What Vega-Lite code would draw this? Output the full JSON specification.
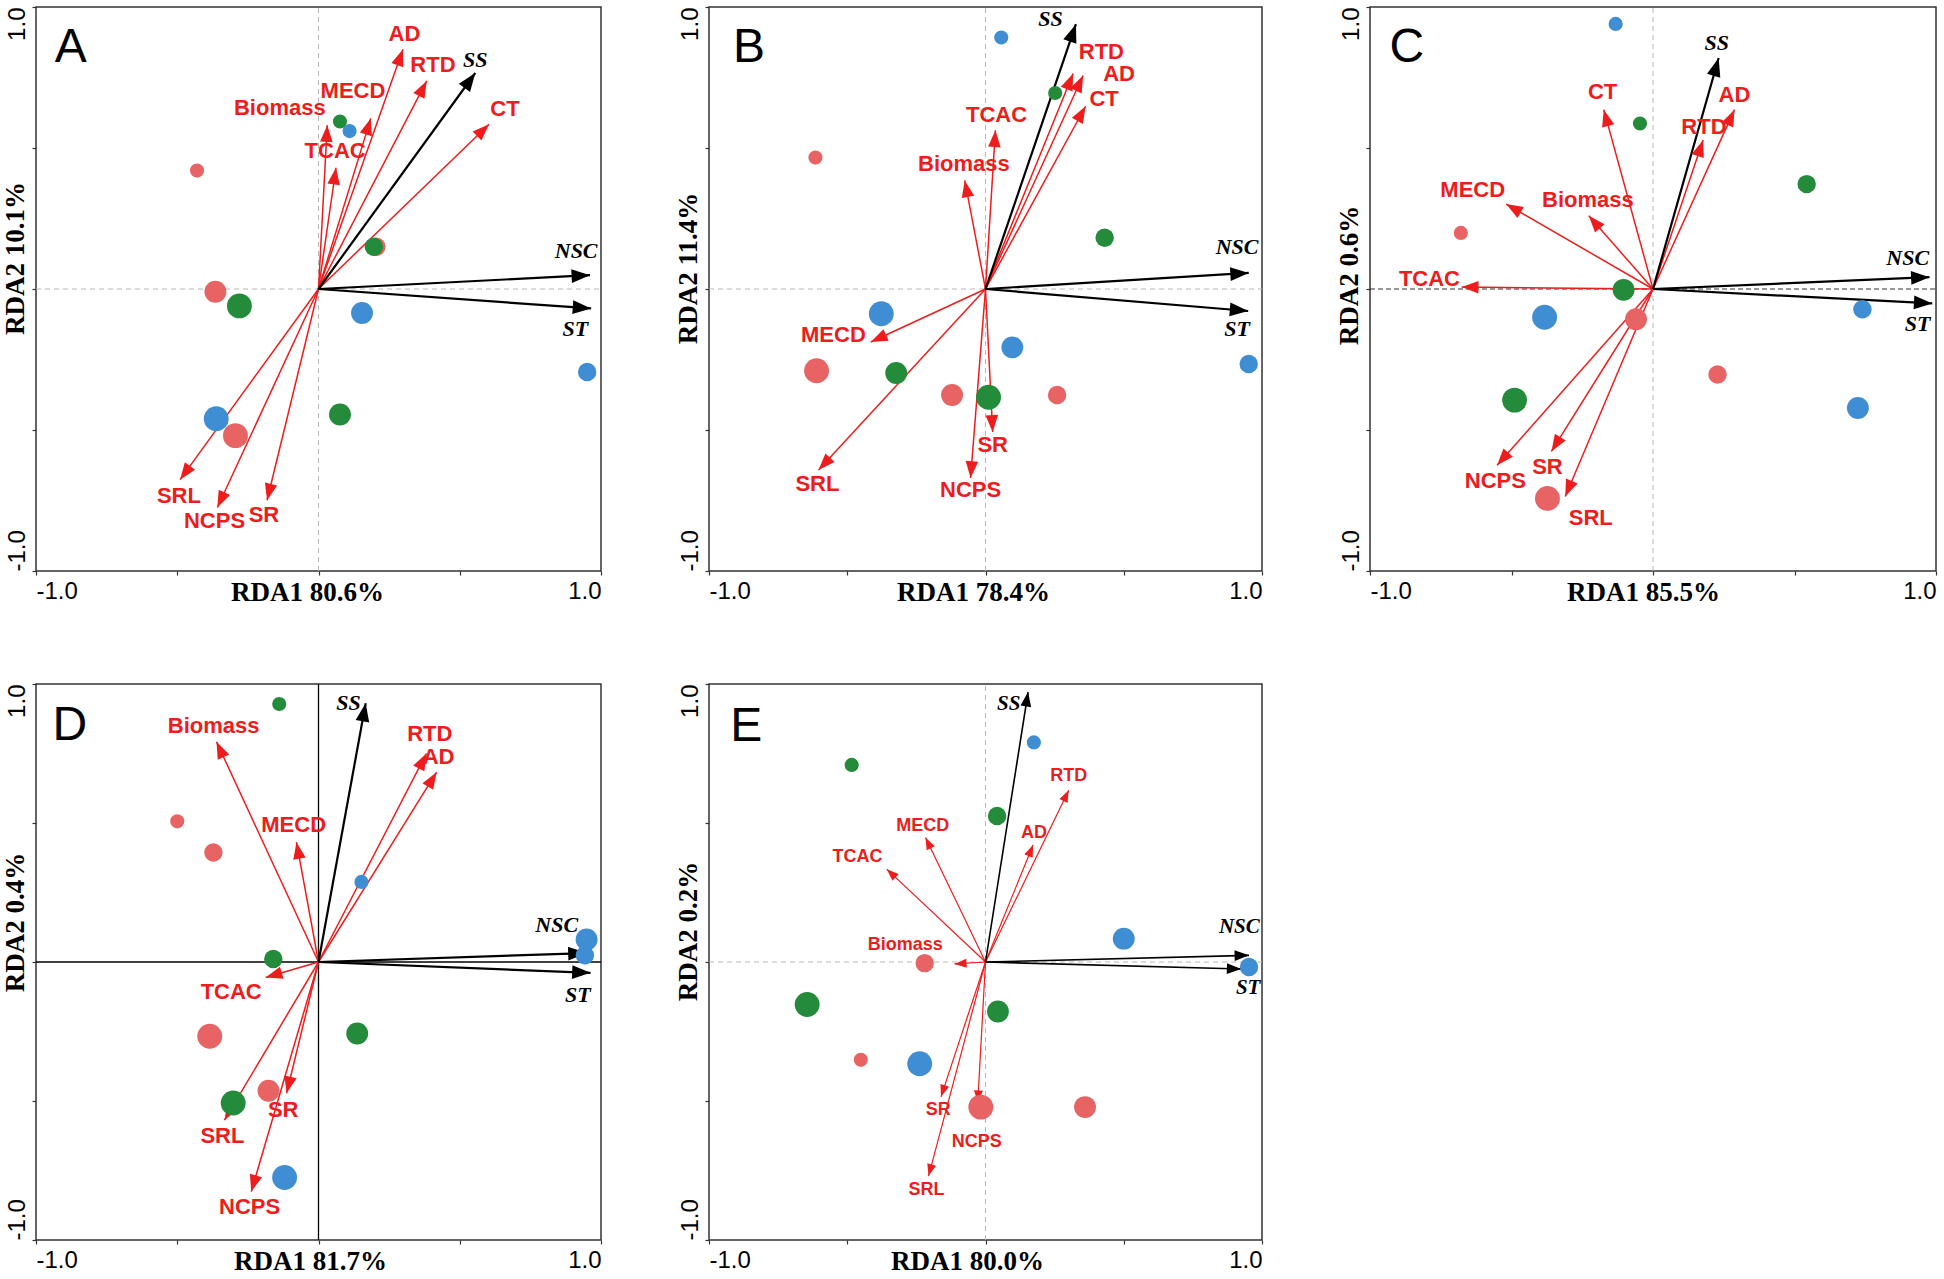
{
"$schema": "https://vega.github.io/schema/vega-lite/v6.json",
"background": "white",
"padding": {"left": 0, "top": 5, "right": 5, "bottom": 0},
"bounds": "flush",
"columns": 3,
"spacing": {"row": 113, "column": 108},
"datasets": {
"points": [
{"panel":"A","group":"G1","level":1,"x":-0.43,"y":0.42},
{"panel":"A","group":"G1","level":2,"x":0.205,"y":0.15},
{"panel":"A","group":"G1","level":3,"x":-0.365,"y":-0.01},
{"panel":"A","group":"G1","level":4,"x":-0.294,"y":-0.52},
{"panel":"A","group":"G3","level":1,"x":0.11,"y":0.56},
{"panel":"A","group":"G3","level":2,"x":0.951,"y":-0.294},
{"panel":"A","group":"G3","level":3,"x":0.154,"y":-0.085},
{"panel":"A","group":"G3","level":4,"x":-0.362,"y":-0.46},
{"panel":"A","group":"G2","level":1,"x":0.076,"y":0.594},
{"panel":"A","group":"G2","level":2,"x":0.196,"y":0.15},
{"panel":"A","group":"G2","level":3,"x":0.076,"y":-0.445},
{"panel":"A","group":"G2","level":4,"x":-0.28,"y":-0.06},
{"panel":"B","group":"G1","level":1,"x":-0.615,"y":0.466},
{"panel":"B","group":"G1","level":2,"x":0.259,"y":-0.376},
{"panel":"B","group":"G1","level":3,"x":-0.121,"y":-0.376},
{"panel":"B","group":"G1","level":4,"x":-0.611,"y":-0.29},
{"panel":"B","group":"G3","level":1,"x":0.057,"y":0.892},
{"panel":"B","group":"G3","level":2,"x":0.952,"y":-0.266},
{"panel":"B","group":"G3","level":3,"x":0.097,"y":-0.207},
{"panel":"B","group":"G3","level":4,"x":-0.377,"y":-0.088},
{"panel":"B","group":"G2","level":1,"x":0.252,"y":0.695},
{"panel":"B","group":"G2","level":2,"x":0.431,"y":0.182},
{"panel":"B","group":"G2","level":3,"x":-0.323,"y":-0.298},
{"panel":"B","group":"G2","level":4,"x":0.011,"y":-0.384},
{"panel":"C","group":"G1","level":1,"x":-0.679,"y":0.199},
{"panel":"C","group":"G1","level":2,"x":0.228,"y":-0.303},
{"panel":"C","group":"G1","level":3,"x":-0.06,"y":-0.107},
{"panel":"C","group":"G1","level":4,"x":-0.373,"y":-0.743},
{"panel":"C","group":"G3","level":1,"x":-0.132,"y":0.94},
{"panel":"C","group":"G3","level":2,"x":0.74,"y":-0.072},
{"panel":"C","group":"G3","level":3,"x":0.724,"y":-0.422},
{"panel":"C","group":"G3","level":4,"x":-0.383,"y":-0.1},
{"panel":"C","group":"G2","level":1,"x":-0.046,"y":0.587},
{"panel":"C","group":"G2","level":2,"x":0.543,"y":0.372},
{"panel":"C","group":"G2","level":3,"x":-0.104,"y":-0.003},
{"panel":"C","group":"G2","level":4,"x":-0.489,"y":-0.394},
{"panel":"D","group":"G1","level":1,"x":-0.5,"y":0.506},
{"panel":"D","group":"G1","level":2,"x":-0.372,"y":0.394},
{"panel":"D","group":"G1","level":3,"x":-0.177,"y":-0.463},
{"panel":"D","group":"G1","level":4,"x":-0.385,"y":-0.267},
{"panel":"D","group":"G3","level":1,"x":0.152,"y":0.288},
{"panel":"D","group":"G3","level":2,"x":0.943,"y":0.024},
{"panel":"D","group":"G3","level":3,"x":0.949,"y":0.081},
{"panel":"D","group":"G3","level":4,"x":-0.12,"y":-0.775},
{"panel":"D","group":"G2","level":1,"x":-0.139,"y":0.928},
{"panel":"D","group":"G2","level":2,"x":-0.16,"y":0.011},
{"panel":"D","group":"G2","level":3,"x":0.137,"y":-0.257},
{"panel":"D","group":"G2","level":4,"x":-0.302,"y":-0.507},
{"panel":"E","group":"G1","level":1,"x":-0.451,"y":-0.352},
{"panel":"E","group":"G1","level":2,"x":-0.22,"y":-0.004},
{"panel":"E","group":"G1","level":3,"x":0.36,"y":-0.522},
{"panel":"E","group":"G1","level":4,"x":-0.017,"y":-0.522},
{"panel":"E","group":"G3","level":1,"x":0.175,"y":0.79},
{"panel":"E","group":"G3","level":2,"x":0.953,"y":-0.018},
{"panel":"E","group":"G3","level":3,"x":0.5,"y":0.084},
{"panel":"E","group":"G3","level":4,"x":-0.238,"y":-0.366},
{"panel":"E","group":"G2","level":1,"x":-0.484,"y":0.709},
{"panel":"E","group":"G2","level":2,"x":0.042,"y":0.525},
{"panel":"E","group":"G2","level":3,"x":0.045,"y":-0.178},
{"panel":"E","group":"G2","level":4,"x":-0.645,"y":-0.153}
],
"vectors": [
{"panel":"A","var":"AD","kind":"trait","x":0.299,"y":0.85,"lx":0.304,"ly":0.906},
{"panel":"A","var":"RTD","kind":"trait","x":0.383,"y":0.738,"lx":0.405,"ly":0.794},
{"panel":"A","var":"CT","kind":"trait","x":0.604,"y":0.584,"lx":0.66,"ly":0.637},
{"panel":"A","var":"MECD","kind":"trait","x":0.185,"y":0.605,"lx":0.122,"ly":0.703},
{"panel":"A","var":"Biomass","kind":"trait","x":0.031,"y":0.581,"lx":-0.137,"ly":0.643},
{"panel":"A","var":"TCAC","kind":"trait","x":0.062,"y":0.43,"lx":0.059,"ly":0.489},
{"panel":"A","var":"SRL","kind":"trait","x":-0.49,"y":-0.676,"lx":-0.494,"ly":-0.735},
{"panel":"A","var":"NCPS","kind":"trait","x":-0.358,"y":-0.775,"lx":-0.368,"ly":-0.824},
{"panel":"A","var":"SR","kind":"trait","x":-0.182,"y":-0.749,"lx":-0.193,"ly":-0.8},
{"panel":"A","var":"SS","kind":"env","x":0.555,"y":0.766,"lx":0.555,"ly":0.811},
{"panel":"A","var":"NSC","kind":"env","x":0.961,"y":0.049,"lx":0.912,"ly":0.136},
{"panel":"A","var":"ST","kind":"env","x":0.965,"y":-0.069,"lx":0.909,"ly":-0.141},
{"panel":"B","var":"RTD","kind":"trait","x":0.317,"y":0.764,"lx":0.419,"ly":0.842},
{"panel":"B","var":"AD","kind":"trait","x":0.353,"y":0.757,"lx":0.483,"ly":0.764},
{"panel":"B","var":"CT","kind":"trait","x":0.362,"y":0.648,"lx":0.429,"ly":0.672},
{"panel":"B","var":"TCAC","kind":"trait","x":0.036,"y":0.563,"lx":0.04,"ly":0.618},
{"panel":"B","var":"Biomass","kind":"trait","x":-0.075,"y":0.385,"lx":-0.078,"ly":0.445},
{"panel":"B","var":"MECD","kind":"trait","x":-0.415,"y":-0.188,"lx":-0.55,"ly":-0.162},
{"panel":"B","var":"SRL","kind":"trait","x":-0.604,"y":-0.642,"lx":-0.608,"ly":-0.692},
{"panel":"B","var":"NCPS","kind":"trait","x":-0.054,"y":-0.67,"lx":-0.054,"ly":-0.713},
{"panel":"B","var":"SR","kind":"trait","x":0.026,"y":-0.507,"lx":0.026,"ly":-0.554},
{"panel":"B","var":"SS","kind":"env","x":0.327,"y":0.939,"lx":0.235,"ly":0.956},
{"panel":"B","var":"NSC","kind":"env","x":0.952,"y":0.057,"lx":0.91,"ly":0.149},
{"panel":"B","var":"ST","kind":"env","x":0.95,"y":-0.078,"lx":0.91,"ly":-0.142},
{"panel":"C","var":"AD","kind":"trait","x":0.288,"y":0.636,"lx":0.288,"ly":0.688},
{"panel":"C","var":"RTD","kind":"trait","x":0.177,"y":0.528,"lx":0.18,"ly":0.576},
{"panel":"C","var":"CT","kind":"trait","x":-0.174,"y":0.636,"lx":-0.178,"ly":0.697},
{"panel":"C","var":"MECD","kind":"trait","x":-0.519,"y":0.301,"lx":-0.637,"ly":0.351},
{"panel":"C","var":"Biomass","kind":"trait","x":-0.227,"y":0.26,"lx":-0.23,"ly":0.315},
{"panel":"C","var":"TCAC","kind":"trait","x":-0.676,"y":0.007,"lx":-0.79,"ly":0.037},
{"panel":"C","var":"NCPS","kind":"trait","x":-0.551,"y":-0.625,"lx":-0.557,"ly":-0.681},
{"panel":"C","var":"SR","kind":"trait","x":-0.359,"y":-0.576,"lx":-0.373,"ly":-0.632},
{"panel":"C","var":"SRL","kind":"trait","x":-0.31,"y":-0.736,"lx":-0.22,"ly":-0.813},
{"panel":"C","var":"SS","kind":"env","x":0.232,"y":0.819,"lx":0.225,"ly":0.872},
{"panel":"C","var":"NSC","kind":"env","x":0.977,"y":0.042,"lx":0.9,"ly":0.111},
{"panel":"C","var":"ST","kind":"env","x":0.987,"y":-0.051,"lx":0.935,"ly":-0.125},
{"panel":"D","var":"RTD","kind":"trait","x":0.382,"y":0.75,"lx":0.394,"ly":0.819},
{"panel":"D","var":"AD","kind":"trait","x":0.418,"y":0.683,"lx":0.425,"ly":0.739},
{"panel":"D","var":"Biomass","kind":"trait","x":-0.361,"y":0.792,"lx":-0.371,"ly":0.85},
{"panel":"D","var":"MECD","kind":"trait","x":-0.078,"y":0.431,"lx":-0.088,"ly":0.493},
{"panel":"D","var":"TCAC","kind":"trait","x":-0.187,"y":-0.056,"lx":-0.309,"ly":-0.108},
{"panel":"D","var":"SRL","kind":"trait","x":-0.333,"y":-0.569,"lx":-0.34,"ly":-0.625},
{"panel":"D","var":"SR","kind":"trait","x":-0.113,"y":-0.472,"lx":-0.125,"ly":-0.531},
{"panel":"D","var":"NCPS","kind":"trait","x":-0.238,"y":-0.826,"lx":-0.244,"ly":-0.882},
{"panel":"D","var":"SS","kind":"env","x":0.167,"y":0.931,"lx":0.106,"ly":0.931},
{"panel":"D","var":"NSC","kind":"env","x":0.949,"y":0.032,"lx":0.843,"ly":0.132},
{"panel":"D","var":"ST","kind":"env","x":0.963,"y":-0.039,"lx":0.918,"ly":-0.118},
{"panel":"E","var":"RTD","kind":"trait","x":0.301,"y":0.618,"lx":0.301,"ly":0.669},
{"panel":"E","var":"AD","kind":"trait","x":0.172,"y":0.421,"lx":0.175,"ly":0.465},
{"panel":"E","var":"MECD","kind":"trait","x":-0.217,"y":0.448,"lx":-0.227,"ly":0.49},
{"panel":"E","var":"TCAC","kind":"trait","x":-0.357,"y":0.334,"lx":-0.463,"ly":0.379},
{"panel":"E","var":"Biomass","kind":"trait","x":-0.112,"y":-0.007,"lx":-0.29,"ly":0.061},
{"panel":"E","var":"SR","kind":"trait","x":-0.161,"y":-0.485,"lx":-0.171,"ly":-0.531},
{"panel":"E","var":"SRL","kind":"trait","x":-0.206,"y":-0.77,"lx":-0.213,"ly":-0.819},
{"panel":"E","var":"NCPS","kind":"trait","x":-0.028,"y":-0.505,"lx":-0.032,"ly":-0.649},
{"panel":"E","var":"SS","kind":"env","x":0.154,"y":0.971,"lx":0.084,"ly":0.929},
{"panel":"E","var":"NSC","kind":"env","x":0.953,"y":0.024,"lx":0.918,"ly":0.125},
{"panel":"E","var":"ST","kind":"env","x":0.925,"y":-0.025,"lx":0.95,"ly":-0.095}
]
},
"config": {
"view": {"stroke": "#333333", "strokeWidth": 1.5},
"axis": {"domain": false, "grid": false, "ticks": true, "tickColor": "#333333", "tickSize": 4, "tickWidth": 1.2, "labelFont": "Liberation Sans", "labelFontSize": 24, "labelColor": "#000000", "labelOverlap": false, "titleFont": "Liberation Serif", "titleFontSize": 27, "titleFontWeight": "bold", "titleColor": "#000000"}
},
"concat": [
{
"width": 565, "height": 564,
"layer": [
{"data": {"values": [{}]}, "mark": {"type": "rule", "stroke": "#b8b8b8", "strokeDash": [5, 4], "strokeWidth": 1},
 "encoding": {"x": {"datum": 0, "type": "quantitative", "scale": {"domain": [-1, 1], "nice": false}}, "y": {"datum": -1, "type": "quantitative", "scale": {"domain": [-1, 1], "nice": false}}, "y2": {"datum": 1}}},
{"data": {"values": [{}]}, "mark": {"type": "rule", "stroke": "#b8b8b8", "strokeDash": [5, 4], "strokeWidth": 1},
 "encoding": {"x": {"datum": -1, "type": "quantitative", "scale": {"domain": [-1, 1], "nice": false}}, "x2": {"datum": 1}, "y": {"datum": 0, "type": "quantitative", "scale": {"domain": [-1, 1], "nice": false}}}},
{"data": {"name": "vectors"}, "transform": [{"filter": "datum.panel === 'A' && datum.kind === 'trait'"}],
 "mark": {"type": "rule", "stroke": "#ee1c1c", "strokeWidth": 1.5},
 "encoding": {"x": {"field": "x", "type": "quantitative", "scale": {"domain": [-1, 1], "nice": false}}, "y": {"field": "y", "type": "quantitative", "scale": {"domain": [-1, 1], "nice": false}}, "x2": {"datum": 0}, "y2": {"datum": 0}}},
{"data": {"name": "vectors"}, "transform": [{"filter": "datum.panel === 'A' && datum.kind === 'env'"}],
 "mark": {"type": "rule", "stroke": "#000000", "strokeWidth": 2.2},
 "encoding": {"x": {"field": "x", "type": "quantitative", "scale": {"domain": [-1, 1], "nice": false}}, "y": {"field": "y", "type": "quantitative", "scale": {"domain": [-1, 1], "nice": false}}, "x2": {"datum": 0}, "y2": {"datum": 0}}},
{"data": {"name": "vectors"}, "transform": [{"filter": "datum.panel === 'A' && datum.kind === 'trait'"}, {"calculate": "atan2(datum.x, datum.y) * 180 / PI", "as": "angle"}],
 "mark": {"type": "point", "shape": "M0,0L0.6,1.6L-0.6,1.6Z", "filled": true, "color": "#ee1c1c", "opacity": 1, "strokeWidth": 0, "size": 441},
 "encoding": {"x": {"field": "x", "type": "quantitative", "scale": {"domain": [-1, 1], "nice": false}}, "y": {"field": "y", "type": "quantitative", "scale": {"domain": [-1, 1], "nice": false}}, "angle": {"field": "angle", "type": "quantitative", "scale": null}}},
{"data": {"name": "vectors"}, "transform": [{"filter": "datum.panel === 'A' && datum.kind === 'env'"}, {"calculate": "atan2(datum.x, datum.y) * 180 / PI", "as": "angle"}],
 "mark": {"type": "point", "shape": "M0,0L0.6,1.6L-0.6,1.6Z", "filled": true, "color": "#000000", "opacity": 1, "strokeWidth": 0, "size": 529},
 "encoding": {"x": {"field": "x", "type": "quantitative", "scale": {"domain": [-1, 1], "nice": false}}, "y": {"field": "y", "type": "quantitative", "scale": {"domain": [-1, 1], "nice": false}}, "angle": {"field": "angle", "type": "quantitative", "scale": null}}},
{"data": {"name": "points"}, "transform": [{"filter": "datum.panel === 'A'"}],
 "mark": {"type": "circle", "opacity": 1},
 "encoding": {
  "x": {"field": "x", "type": "quantitative", "scale": {"domain": [-1, 1], "nice": false}, "axis": {"title": "RDA1 80.6%", "values": [-1, -0.5, 0, 0.5, 1], "labelExpr": "datum.value == 1 ? '1.0' : (datum.value == -1 ? '-1.0' : '')", "labelFlush": true, "labelPadding": 4, "titleX": 271, "titleY": 8, "titleBaseline": "top"}},
  "y": {"field": "y", "type": "quantitative", "scale": {"domain": [-1, 1], "nice": false}, "axis": {"title": "RDA2 10.1%", "values": [-1, -0.5, 0, 0.5, 1], "labelExpr": "datum.value == 1 ? '1.0' : (datum.value == -1 ? '-1.0' : '')", "labelAngle": 270, "labelBaseline": "bottom", "labelAlign": {"condition": {"test": "datum.value > 0", "value": "right"}, "value": "left"}, "labelPadding": 3, "titleX": -7, "titleY": 251, "titleAngle": 270, "titleBaseline": "bottom", "titleAlign": "center"}},
  "color": {"field": "group", "type": "nominal", "scale": {"domain": ["G1", "G2", "G3"], "range": ["#e86464", "#238b3a", "#3f8ed4"]}, "legend": null},
  "size": {"field": "level", "type": "quantitative", "scale": {"domain": [1, 4], "range": [200, 620]}, "legend": null}}},
{"data": {"name": "vectors"}, "transform": [{"filter": "datum.panel === 'A' && datum.kind === 'trait'"}],
 "mark": {"type": "text", "font": "Liberation Sans", "fontWeight": "bold", "fontSize": 22, "color": "#ee1c1c", "align": "center", "baseline": "middle"},
 "encoding": {"x": {"field": "lx", "type": "quantitative", "scale": {"domain": [-1, 1], "nice": false}}, "y": {"field": "ly", "type": "quantitative", "scale": {"domain": [-1, 1], "nice": false}}, "text": {"field": "var"}}},
{"data": {"name": "vectors"}, "transform": [{"filter": "datum.panel === 'A' && datum.kind === 'env'"}],
 "mark": {"type": "text", "font": "Liberation Serif", "fontWeight": "bold", "fontStyle": "italic", "fontSize": 22, "color": "#000000", "align": "center", "baseline": "middle"},
 "encoding": {"x": {"field": "lx", "type": "quantitative", "scale": {"domain": [-1, 1], "nice": false}}, "y": {"field": "ly", "type": "quantitative", "scale": {"domain": [-1, 1], "nice": false}}, "text": {"field": "var"}}},
{"data": {"values": [{}]}, "mark": {"type": "text", "text": "A", "font": "Liberation Sans", "fontSize": 48, "align": "center", "baseline": "alphabetic", "color": "#000000"},
 "encoding": {"x": {"datum": -0.877, "type": "quantitative", "scale": {"domain": [-1, 1], "nice": false}}, "y": {"datum": 0.805, "type": "quantitative", "scale": {"domain": [-1, 1], "nice": false}}}}
]
},
{
"width": 553, "height": 564,
"layer": [
{"data": {"values": [{}]}, "mark": {"type": "rule", "stroke": "#b8b8b8", "strokeDash": [5, 4], "strokeWidth": 1},
 "encoding": {"x": {"datum": 0, "type": "quantitative", "scale": {"domain": [-1, 1], "nice": false}}, "y": {"datum": -1, "type": "quantitative", "scale": {"domain": [-1, 1], "nice": false}}, "y2": {"datum": 1}}},
{"data": {"values": [{}]}, "mark": {"type": "rule", "stroke": "#b8b8b8", "strokeDash": [5, 4], "strokeWidth": 1},
 "encoding": {"x": {"datum": -1, "type": "quantitative", "scale": {"domain": [-1, 1], "nice": false}}, "x2": {"datum": 1}, "y": {"datum": 0, "type": "quantitative", "scale": {"domain": [-1, 1], "nice": false}}}},
{"data": {"name": "vectors"}, "transform": [{"filter": "datum.panel === 'B' && datum.kind === 'trait'"}],
 "mark": {"type": "rule", "stroke": "#ee1c1c", "strokeWidth": 1.5},
 "encoding": {"x": {"field": "x", "type": "quantitative", "scale": {"domain": [-1, 1], "nice": false}}, "y": {"field": "y", "type": "quantitative", "scale": {"domain": [-1, 1], "nice": false}}, "x2": {"datum": 0}, "y2": {"datum": 0}}},
{"data": {"name": "vectors"}, "transform": [{"filter": "datum.panel === 'B' && datum.kind === 'env'"}],
 "mark": {"type": "rule", "stroke": "#000000", "strokeWidth": 2.2},
 "encoding": {"x": {"field": "x", "type": "quantitative", "scale": {"domain": [-1, 1], "nice": false}}, "y": {"field": "y", "type": "quantitative", "scale": {"domain": [-1, 1], "nice": false}}, "x2": {"datum": 0}, "y2": {"datum": 0}}},
{"data": {"name": "vectors"}, "transform": [{"filter": "datum.panel === 'B' && datum.kind === 'trait'"}, {"calculate": "atan2(datum.x, datum.y) * 180 / PI", "as": "angle"}],
 "mark": {"type": "point", "shape": "M0,0L0.6,1.6L-0.6,1.6Z", "filled": true, "color": "#ee1c1c", "opacity": 1, "strokeWidth": 0, "size": 441},
 "encoding": {"x": {"field": "x", "type": "quantitative", "scale": {"domain": [-1, 1], "nice": false}}, "y": {"field": "y", "type": "quantitative", "scale": {"domain": [-1, 1], "nice": false}}, "angle": {"field": "angle", "type": "quantitative", "scale": null}}},
{"data": {"name": "vectors"}, "transform": [{"filter": "datum.panel === 'B' && datum.kind === 'env'"}, {"calculate": "atan2(datum.x, datum.y) * 180 / PI", "as": "angle"}],
 "mark": {"type": "point", "shape": "M0,0L0.6,1.6L-0.6,1.6Z", "filled": true, "color": "#000000", "opacity": 1, "strokeWidth": 0, "size": 529},
 "encoding": {"x": {"field": "x", "type": "quantitative", "scale": {"domain": [-1, 1], "nice": false}}, "y": {"field": "y", "type": "quantitative", "scale": {"domain": [-1, 1], "nice": false}}, "angle": {"field": "angle", "type": "quantitative", "scale": null}}},
{"data": {"name": "points"}, "transform": [{"filter": "datum.panel === 'B'"}],
 "mark": {"type": "circle", "opacity": 1},
 "encoding": {
  "x": {"field": "x", "type": "quantitative", "scale": {"domain": [-1, 1], "nice": false}, "axis": {"title": "RDA1 78.4%", "values": [-1, -0.5, 0, 0.5, 1], "labelExpr": "datum.value == 1 ? '1.0' : (datum.value == -1 ? '-1.0' : '')", "labelFlush": true, "labelPadding": 4, "titleX": 264, "titleY": 8, "titleBaseline": "top"}},
  "y": {"field": "y", "type": "quantitative", "scale": {"domain": [-1, 1], "nice": false}, "axis": {"title": "RDA2 11.4%", "values": [-1, -0.5, 0, 0.5, 1], "labelExpr": "datum.value == 1 ? '1.0' : (datum.value == -1 ? '-1.0' : '')", "labelAngle": 270, "labelBaseline": "bottom", "labelAlign": {"condition": {"test": "datum.value > 0", "value": "right"}, "value": "left"}, "labelPadding": 3, "titleX": -7, "titleY": 261, "titleAngle": 270, "titleBaseline": "bottom", "titleAlign": "center"}},
  "color": {"field": "group", "type": "nominal", "scale": {"domain": ["G1", "G2", "G3"], "range": ["#e86464", "#238b3a", "#3f8ed4"]}, "legend": null},
  "size": {"field": "level", "type": "quantitative", "scale": {"domain": [1, 4], "range": [200, 620]}, "legend": null}}},
{"data": {"name": "vectors"}, "transform": [{"filter": "datum.panel === 'B' && datum.kind === 'trait'"}],
 "mark": {"type": "text", "font": "Liberation Sans", "fontWeight": "bold", "fontSize": 22, "color": "#ee1c1c", "align": "center", "baseline": "middle"},
 "encoding": {"x": {"field": "lx", "type": "quantitative", "scale": {"domain": [-1, 1], "nice": false}}, "y": {"field": "ly", "type": "quantitative", "scale": {"domain": [-1, 1], "nice": false}}, "text": {"field": "var"}}},
{"data": {"name": "vectors"}, "transform": [{"filter": "datum.panel === 'B' && datum.kind === 'env'"}],
 "mark": {"type": "text", "font": "Liberation Serif", "fontWeight": "bold", "fontStyle": "italic", "fontSize": 22, "color": "#000000", "align": "center", "baseline": "middle"},
 "encoding": {"x": {"field": "lx", "type": "quantitative", "scale": {"domain": [-1, 1], "nice": false}}, "y": {"field": "ly", "type": "quantitative", "scale": {"domain": [-1, 1], "nice": false}}, "text": {"field": "var"}}},
{"data": {"values": [{}]}, "mark": {"type": "text", "text": "B", "font": "Liberation Sans", "fontSize": 48, "align": "center", "baseline": "alphabetic", "color": "#000000"},
 "encoding": {"x": {"datum": -0.855, "type": "quantitative", "scale": {"domain": [-1, 1], "nice": false}}, "y": {"datum": 0.805, "type": "quantitative", "scale": {"domain": [-1, 1], "nice": false}}}}
]
},
{
"width": 566, "height": 564,
"layer": [
{"data": {"values": [{}]}, "mark": {"type": "rule", "stroke": "#b8b8b8", "strokeDash": [5, 4], "strokeWidth": 1},
 "encoding": {"x": {"datum": 0, "type": "quantitative", "scale": {"domain": [-1, 1], "nice": false}}, "y": {"datum": -1, "type": "quantitative", "scale": {"domain": [-1, 1], "nice": false}}, "y2": {"datum": 1}}},
{"data": {"values": [{}]}, "mark": {"type": "rule", "stroke": "#333333", "strokeDash": [5, 3], "strokeWidth": 1.2},
 "encoding": {"x": {"datum": -1, "type": "quantitative", "scale": {"domain": [-1, 1], "nice": false}}, "x2": {"datum": 1}, "y": {"datum": 0, "type": "quantitative", "scale": {"domain": [-1, 1], "nice": false}}}},
{"data": {"name": "vectors"}, "transform": [{"filter": "datum.panel === 'C' && datum.kind === 'trait'"}],
 "mark": {"type": "rule", "stroke": "#ee1c1c", "strokeWidth": 1.5},
 "encoding": {"x": {"field": "x", "type": "quantitative", "scale": {"domain": [-1, 1], "nice": false}}, "y": {"field": "y", "type": "quantitative", "scale": {"domain": [-1, 1], "nice": false}}, "x2": {"datum": 0}, "y2": {"datum": 0}}},
{"data": {"name": "vectors"}, "transform": [{"filter": "datum.panel === 'C' && datum.kind === 'env'"}],
 "mark": {"type": "rule", "stroke": "#000000", "strokeWidth": 2.2},
 "encoding": {"x": {"field": "x", "type": "quantitative", "scale": {"domain": [-1, 1], "nice": false}}, "y": {"field": "y", "type": "quantitative", "scale": {"domain": [-1, 1], "nice": false}}, "x2": {"datum": 0}, "y2": {"datum": 0}}},
{"data": {"name": "vectors"}, "transform": [{"filter": "datum.panel === 'C' && datum.kind === 'trait'"}, {"calculate": "atan2(datum.x, datum.y) * 180 / PI", "as": "angle"}],
 "mark": {"type": "point", "shape": "M0,0L0.6,1.6L-0.6,1.6Z", "filled": true, "color": "#ee1c1c", "opacity": 1, "strokeWidth": 0, "size": 441},
 "encoding": {"x": {"field": "x", "type": "quantitative", "scale": {"domain": [-1, 1], "nice": false}}, "y": {"field": "y", "type": "quantitative", "scale": {"domain": [-1, 1], "nice": false}}, "angle": {"field": "angle", "type": "quantitative", "scale": null}}},
{"data": {"name": "vectors"}, "transform": [{"filter": "datum.panel === 'C' && datum.kind === 'env'"}, {"calculate": "atan2(datum.x, datum.y) * 180 / PI", "as": "angle"}],
 "mark": {"type": "point", "shape": "M0,0L0.6,1.6L-0.6,1.6Z", "filled": true, "color": "#000000", "opacity": 1, "strokeWidth": 0, "size": 529},
 "encoding": {"x": {"field": "x", "type": "quantitative", "scale": {"domain": [-1, 1], "nice": false}}, "y": {"field": "y", "type": "quantitative", "scale": {"domain": [-1, 1], "nice": false}}, "angle": {"field": "angle", "type": "quantitative", "scale": null}}},
{"data": {"name": "points"}, "transform": [{"filter": "datum.panel === 'C'"}],
 "mark": {"type": "circle", "opacity": 1},
 "encoding": {
  "x": {"field": "x", "type": "quantitative", "scale": {"domain": [-1, 1], "nice": false}, "axis": {"title": "RDA1 85.5%", "values": [-1, -0.5, 0, 0.5, 1], "labelExpr": "datum.value == 1 ? '1.0' : (datum.value == -1 ? '-1.0' : '')", "labelFlush": true, "labelPadding": 4, "titleX": 273, "titleY": 8, "titleBaseline": "top"}},
  "y": {"field": "y", "type": "quantitative", "scale": {"domain": [-1, 1], "nice": false}, "axis": {"title": "RDA2 0.6%", "values": [-1, -0.5, 0, 0.5, 1], "labelExpr": "datum.value == 1 ? '1.0' : (datum.value == -1 ? '-1.0' : '')", "labelAngle": 270, "labelBaseline": "bottom", "labelAlign": {"condition": {"test": "datum.value > 0", "value": "right"}, "value": "left"}, "labelPadding": 3, "titleX": -7, "titleY": 268, "titleAngle": 270, "titleBaseline": "bottom", "titleAlign": "center"}},
  "color": {"field": "group", "type": "nominal", "scale": {"domain": ["G1", "G2", "G3"], "range": ["#e86464", "#238b3a", "#3f8ed4"]}, "legend": null},
  "size": {"field": "level", "type": "quantitative", "scale": {"domain": [1, 4], "range": [200, 620]}, "legend": null}}},
{"data": {"name": "vectors"}, "transform": [{"filter": "datum.panel === 'C' && datum.kind === 'trait'"}],
 "mark": {"type": "text", "font": "Liberation Sans", "fontWeight": "bold", "fontSize": 22, "color": "#ee1c1c", "align": "center", "baseline": "middle"},
 "encoding": {"x": {"field": "lx", "type": "quantitative", "scale": {"domain": [-1, 1], "nice": false}}, "y": {"field": "ly", "type": "quantitative", "scale": {"domain": [-1, 1], "nice": false}}, "text": {"field": "var"}}},
{"data": {"name": "vectors"}, "transform": [{"filter": "datum.panel === 'C' && datum.kind === 'env'"}],
 "mark": {"type": "text", "font": "Liberation Serif", "fontWeight": "bold", "fontStyle": "italic", "fontSize": 22, "color": "#000000", "align": "center", "baseline": "middle"},
 "encoding": {"x": {"field": "lx", "type": "quantitative", "scale": {"domain": [-1, 1], "nice": false}}, "y": {"field": "ly", "type": "quantitative", "scale": {"domain": [-1, 1], "nice": false}}, "text": {"field": "var"}}},
{"data": {"values": [{}]}, "mark": {"type": "text", "text": "C", "font": "Liberation Sans", "fontSize": 48, "align": "center", "baseline": "alphabetic", "color": "#000000"},
 "encoding": {"x": {"datum": -0.87, "type": "quantitative", "scale": {"domain": [-1, 1], "nice": false}}, "y": {"datum": 0.805, "type": "quantitative", "scale": {"domain": [-1, 1], "nice": false}}}}
]
},
{
"width": 565, "height": 556,
"layer": [
{"data": {"values": [{}]}, "mark": {"type": "rule", "stroke": "#000000", "strokeWidth": 1.3},
 "encoding": {"x": {"datum": 0, "type": "quantitative", "scale": {"domain": [-1, 1], "nice": false}}, "y": {"datum": -1, "type": "quantitative", "scale": {"domain": [-1, 1], "nice": false}}, "y2": {"datum": 1}}},
{"data": {"values": [{}]}, "mark": {"type": "rule", "stroke": "#000000", "strokeWidth": 1.3},
 "encoding": {"x": {"datum": -1, "type": "quantitative", "scale": {"domain": [-1, 1], "nice": false}}, "x2": {"datum": 1}, "y": {"datum": 0, "type": "quantitative", "scale": {"domain": [-1, 1], "nice": false}}}},
{"data": {"name": "vectors"}, "transform": [{"filter": "datum.panel === 'D' && datum.kind === 'trait'"}],
 "mark": {"type": "rule", "stroke": "#ee1c1c", "strokeWidth": 1.5},
 "encoding": {"x": {"field": "x", "type": "quantitative", "scale": {"domain": [-1, 1], "nice": false}}, "y": {"field": "y", "type": "quantitative", "scale": {"domain": [-1, 1], "nice": false}}, "x2": {"datum": 0}, "y2": {"datum": 0}}},
{"data": {"name": "vectors"}, "transform": [{"filter": "datum.panel === 'D' && datum.kind === 'env'"}],
 "mark": {"type": "rule", "stroke": "#000000", "strokeWidth": 2.2},
 "encoding": {"x": {"field": "x", "type": "quantitative", "scale": {"domain": [-1, 1], "nice": false}}, "y": {"field": "y", "type": "quantitative", "scale": {"domain": [-1, 1], "nice": false}}, "x2": {"datum": 0}, "y2": {"datum": 0}}},
{"data": {"name": "vectors"}, "transform": [{"filter": "datum.panel === 'D' && datum.kind === 'trait'"}, {"calculate": "atan2(datum.x, datum.y) * 180 / PI", "as": "angle"}],
 "mark": {"type": "point", "shape": "M0,0L0.6,1.6L-0.6,1.6Z", "filled": true, "color": "#ee1c1c", "opacity": 1, "strokeWidth": 0, "size": 441},
 "encoding": {"x": {"field": "x", "type": "quantitative", "scale": {"domain": [-1, 1], "nice": false}}, "y": {"field": "y", "type": "quantitative", "scale": {"domain": [-1, 1], "nice": false}}, "angle": {"field": "angle", "type": "quantitative", "scale": null}}},
{"data": {"name": "vectors"}, "transform": [{"filter": "datum.panel === 'D' && datum.kind === 'env'"}, {"calculate": "atan2(datum.x, datum.y) * 180 / PI", "as": "angle"}],
 "mark": {"type": "point", "shape": "M0,0L0.6,1.6L-0.6,1.6Z", "filled": true, "color": "#000000", "opacity": 1, "strokeWidth": 0, "size": 529},
 "encoding": {"x": {"field": "x", "type": "quantitative", "scale": {"domain": [-1, 1], "nice": false}}, "y": {"field": "y", "type": "quantitative", "scale": {"domain": [-1, 1], "nice": false}}, "angle": {"field": "angle", "type": "quantitative", "scale": null}}},
{"data": {"name": "points"}, "transform": [{"filter": "datum.panel === 'D'"}],
 "mark": {"type": "circle", "opacity": 1},
 "encoding": {
  "x": {"field": "x", "type": "quantitative", "scale": {"domain": [-1, 1], "nice": false}, "axis": {"title": "RDA1 81.7%", "values": [-1, -0.5, 0, 0.5, 1], "labelExpr": "datum.value == 1 ? '1.0' : (datum.value == -1 ? '-1.0' : '')", "labelFlush": true, "labelPadding": 4, "titleX": 274, "titleY": 8, "titleBaseline": "top"}},
  "y": {"field": "y", "type": "quantitative", "scale": {"domain": [-1, 1], "nice": false}, "axis": {"title": "RDA2 0.4%", "values": [-1, -0.5, 0, 0.5, 1], "labelExpr": "datum.value == 1 ? '1.0' : (datum.value == -1 ? '-1.0' : '')", "labelAngle": 270, "labelBaseline": "bottom", "labelAlign": {"condition": {"test": "datum.value > 0", "value": "right"}, "value": "left"}, "labelPadding": 3, "titleX": -7, "titleY": 238, "titleAngle": 270, "titleBaseline": "bottom", "titleAlign": "center"}},
  "color": {"field": "group", "type": "nominal", "scale": {"domain": ["G1", "G2", "G3"], "range": ["#e86464", "#238b3a", "#3f8ed4"]}, "legend": null},
  "size": {"field": "level", "type": "quantitative", "scale": {"domain": [1, 4], "range": [200, 620]}, "legend": null}}},
{"data": {"name": "vectors"}, "transform": [{"filter": "datum.panel === 'D' && datum.kind === 'trait'"}],
 "mark": {"type": "text", "font": "Liberation Sans", "fontWeight": "bold", "fontSize": 22, "color": "#ee1c1c", "align": "center", "baseline": "middle"},
 "encoding": {"x": {"field": "lx", "type": "quantitative", "scale": {"domain": [-1, 1], "nice": false}}, "y": {"field": "ly", "type": "quantitative", "scale": {"domain": [-1, 1], "nice": false}}, "text": {"field": "var"}}},
{"data": {"name": "vectors"}, "transform": [{"filter": "datum.panel === 'D' && datum.kind === 'env'"}],
 "mark": {"type": "text", "font": "Liberation Serif", "fontWeight": "bold", "fontStyle": "italic", "fontSize": 22, "color": "#000000", "align": "center", "baseline": "middle"},
 "encoding": {"x": {"field": "lx", "type": "quantitative", "scale": {"domain": [-1, 1], "nice": false}}, "y": {"field": "ly", "type": "quantitative", "scale": {"domain": [-1, 1], "nice": false}}, "text": {"field": "var"}}},
{"data": {"values": [{}]}, "mark": {"type": "text", "text": "D", "font": "Liberation Sans", "fontSize": 48, "align": "center", "baseline": "alphabetic", "color": "#000000"},
 "encoding": {"x": {"datum": -0.88, "type": "quantitative", "scale": {"domain": [-1, 1], "nice": false}}, "y": {"datum": 0.8, "type": "quantitative", "scale": {"domain": [-1, 1], "nice": false}}}}
]
},
{
"width": 553, "height": 556,
"layer": [
{"data": {"values": [{}]}, "mark": {"type": "rule", "stroke": "#b8b8b8", "strokeDash": [5, 4], "strokeWidth": 1},
 "encoding": {"x": {"datum": 0, "type": "quantitative", "scale": {"domain": [-1, 1], "nice": false}}, "y": {"datum": -1, "type": "quantitative", "scale": {"domain": [-1, 1], "nice": false}}, "y2": {"datum": 1}}},
{"data": {"values": [{}]}, "mark": {"type": "rule", "stroke": "#b8b8b8", "strokeDash": [5, 4], "strokeWidth": 1},
 "encoding": {"x": {"datum": -1, "type": "quantitative", "scale": {"domain": [-1, 1], "nice": false}}, "x2": {"datum": 1}, "y": {"datum": 0, "type": "quantitative", "scale": {"domain": [-1, 1], "nice": false}}}},
{"data": {"name": "vectors"}, "transform": [{"filter": "datum.panel === 'E' && datum.kind === 'trait'"}],
 "mark": {"type": "rule", "stroke": "#ee1c1c", "strokeWidth": 1.2},
 "encoding": {"x": {"field": "x", "type": "quantitative", "scale": {"domain": [-1, 1], "nice": false}}, "y": {"field": "y", "type": "quantitative", "scale": {"domain": [-1, 1], "nice": false}}, "x2": {"datum": 0}, "y2": {"datum": 0}}},
{"data": {"name": "vectors"}, "transform": [{"filter": "datum.panel === 'E' && datum.kind === 'env'"}],
 "mark": {"type": "rule", "stroke": "#000000", "strokeWidth": 1.6},
 "encoding": {"x": {"field": "x", "type": "quantitative", "scale": {"domain": [-1, 1], "nice": false}}, "y": {"field": "y", "type": "quantitative", "scale": {"domain": [-1, 1], "nice": false}}, "x2": {"datum": 0}, "y2": {"datum": 0}}},
{"data": {"name": "vectors"}, "transform": [{"filter": "datum.panel === 'E' && datum.kind === 'trait'"}, {"calculate": "atan2(datum.x, datum.y) * 180 / PI", "as": "angle"}],
 "mark": {"type": "point", "shape": "M0,0L0.6,1.6L-0.6,1.6Z", "filled": true, "color": "#ee1c1c", "opacity": 1, "strokeWidth": 0, "size": 225},
 "encoding": {"x": {"field": "x", "type": "quantitative", "scale": {"domain": [-1, 1], "nice": false}}, "y": {"field": "y", "type": "quantitative", "scale": {"domain": [-1, 1], "nice": false}}, "angle": {"field": "angle", "type": "quantitative", "scale": null}}},
{"data": {"name": "vectors"}, "transform": [{"filter": "datum.panel === 'E' && datum.kind === 'env'"}, {"calculate": "atan2(datum.x, datum.y) * 180 / PI", "as": "angle"}],
 "mark": {"type": "point", "shape": "M0,0L0.6,1.6L-0.6,1.6Z", "filled": true, "color": "#000000", "opacity": 1, "strokeWidth": 0, "size": 324},
 "encoding": {"x": {"field": "x", "type": "quantitative", "scale": {"domain": [-1, 1], "nice": false}}, "y": {"field": "y", "type": "quantitative", "scale": {"domain": [-1, 1], "nice": false}}, "angle": {"field": "angle", "type": "quantitative", "scale": null}}},
{"data": {"name": "points"}, "transform": [{"filter": "datum.panel === 'E'"}],
 "mark": {"type": "circle", "opacity": 1},
 "encoding": {
  "x": {"field": "x", "type": "quantitative", "scale": {"domain": [-1, 1], "nice": false}, "axis": {"title": "RDA1 80.0%", "values": [-1, -0.5, 0, 0.5, 1], "labelExpr": "datum.value == 1 ? '1.0' : (datum.value == -1 ? '-1.0' : '')", "labelFlush": true, "labelPadding": 4, "titleX": 258, "titleY": 8, "titleBaseline": "top"}},
  "y": {"field": "y", "type": "quantitative", "scale": {"domain": [-1, 1], "nice": false}, "axis": {"title": "RDA2 0.2%", "values": [-1, -0.5, 0, 0.5, 1], "labelExpr": "datum.value == 1 ? '1.0' : (datum.value == -1 ? '-1.0' : '')", "labelAngle": 270, "labelBaseline": "bottom", "labelAlign": {"condition": {"test": "datum.value > 0", "value": "right"}, "value": "left"}, "labelPadding": 3, "titleX": -7, "titleY": 247, "titleAngle": 270, "titleBaseline": "bottom", "titleAlign": "center"}},
  "color": {"field": "group", "type": "nominal", "scale": {"domain": ["G1", "G2", "G3"], "range": ["#e86464", "#238b3a", "#3f8ed4"]}, "legend": null},
  "size": {"field": "level", "type": "quantitative", "scale": {"domain": [1, 4], "range": [200, 620]}, "legend": null}}},
{"data": {"name": "vectors"}, "transform": [{"filter": "datum.panel === 'E' && datum.kind === 'trait'"}],
 "mark": {"type": "text", "font": "Liberation Sans", "fontWeight": "bold", "fontSize": 18, "color": "#ee1c1c", "align": "center", "baseline": "middle"},
 "encoding": {"x": {"field": "lx", "type": "quantitative", "scale": {"domain": [-1, 1], "nice": false}}, "y": {"field": "ly", "type": "quantitative", "scale": {"domain": [-1, 1], "nice": false}}, "text": {"field": "var"}}},
{"data": {"name": "vectors"}, "transform": [{"filter": "datum.panel === 'E' && datum.kind === 'env'"}],
 "mark": {"type": "text", "font": "Liberation Serif", "fontWeight": "bold", "fontStyle": "italic", "fontSize": 21, "color": "#000000", "align": "center", "baseline": "middle"},
 "encoding": {"x": {"field": "lx", "type": "quantitative", "scale": {"domain": [-1, 1], "nice": false}}, "y": {"field": "ly", "type": "quantitative", "scale": {"domain": [-1, 1], "nice": false}}, "text": {"field": "var"}}},
{"data": {"values": [{}]}, "mark": {"type": "text", "text": "E", "font": "Liberation Sans", "fontSize": 48, "align": "center", "baseline": "alphabetic", "color": "#000000"},
 "encoding": {"x": {"datum": -0.865, "type": "quantitative", "scale": {"domain": [-1, 1], "nice": false}}, "y": {"datum": 0.795, "type": "quantitative", "scale": {"domain": [-1, 1], "nice": false}}}}
]
}
]
}
